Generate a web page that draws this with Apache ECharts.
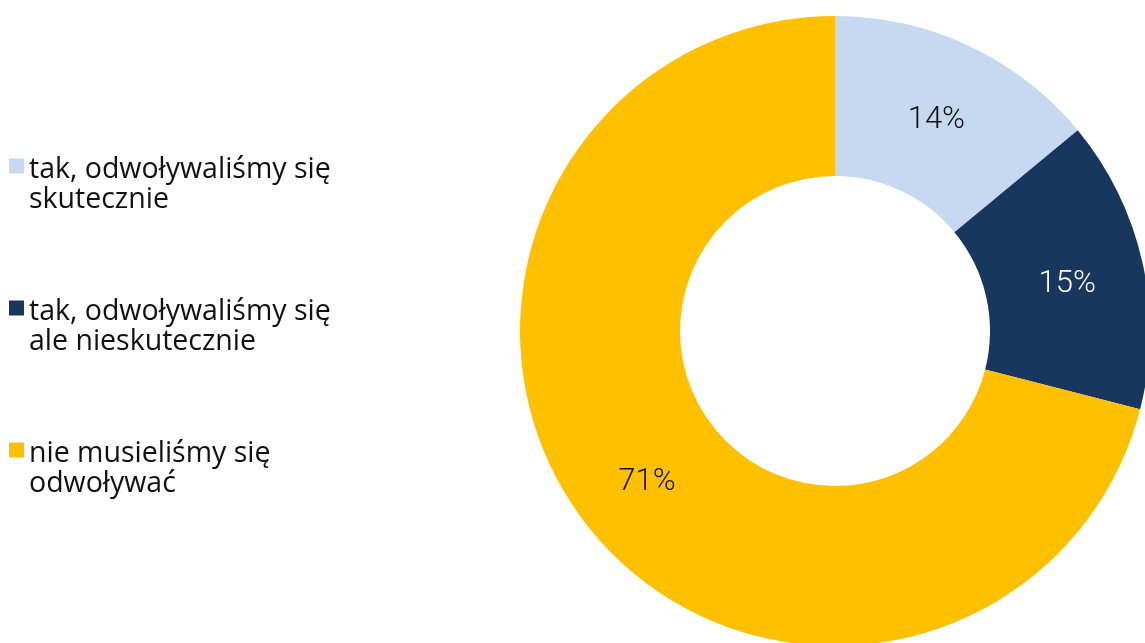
<!DOCTYPE html>
<html>
<head>
<meta charset="utf-8">
<script src="https://cdn.jsdelivr.net/npm/echarts@6/dist/echarts.min.js"></script>
<style>
html,body{margin:0;padding:0;background:#fff;}
#chart{width:1145px;height:643px;}
</style>
</head>
<body>
<div id="chart"></div>
<script>
const categories = [
  "tak, odwoływaliśmy się\nskutecznie",
  "tak, odwoływaliśmy się\nale nieskutecznie",
  "nie musieliśmy się\nodwoływać"
];
const values = [14, 15, 71];
const colors = ["#C6D9F1", "#17375E", "#FFC000"];
const labelColors = ["#111111", "#ffffff", "#111111"];

const chart = echarts.init(document.getElementById('chart'));
chart.setOption({
  animation: false,
  color: colors,
  legend: {
    orient: 'vertical',
    left: 9,
    top: 117,
    padding: 0,
    itemGap: 44,
    itemWidth: 15,
    itemHeight: 15,
    icon: 'rect',
    formatter: function (name) { return '{s| }\n' + name; },
    textStyle: {
      fontFamily: 'Open Sans',
      fontSize: 28.5,
      lineHeight: 30,
      color: '#111111',
      rich: {
        s: { fontSize: 10, lineHeight: 38 }
      }
    },
    data: categories
  },
  series: [{
    type: 'pie',
    center: [835, 331],
    radius: [155, 315],
    startAngle: 90,
    clockwise: true,
    avoidLabelOverlap: false,
    label: {
      show: true,
      position: 'inside',
      formatter: '{a|{c}%}',
      rich: {
        a: {
          fontFamily: 'Roboto',
          fontWeight: 300,
          fontSize: 31,
          padding: [10, 0, 0, 0]
        }
      }
    },
    labelLine: { show: false },
    itemStyle: { borderWidth: 0 },
    emphasis: { disabled: true },
    data: categories.map((c, i) => ({
      name: c,
      value: values[i],
      label: { color: labelColors[i] }
    }))
  }]
});
</script>
</body>
</html>
